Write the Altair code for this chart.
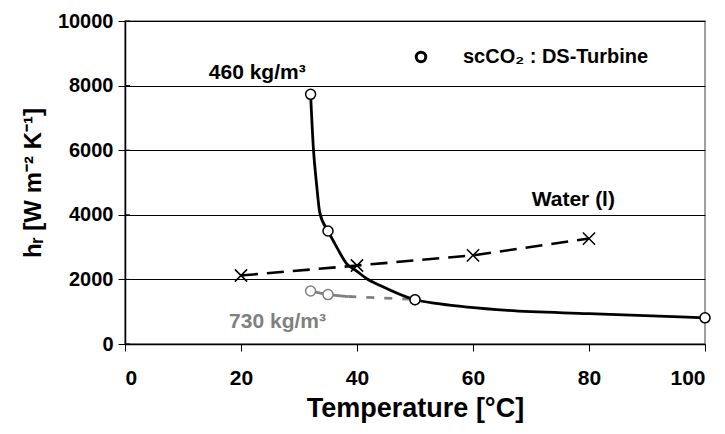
import altair as alt
import pandas as pd

# scCO2 460 kg/m3 curve (line trace) and its markers
t460_line = [32, 32.5, 33.0, 33.6, 35, 36.5, 38.2, 40, 41.7, 44, 50, 54, 66, 80, 100]
h460_line = [7730, 6000, 5000, 4050, 3500, 3000, 2490, 2250, 2020, 1810, 1370, 1250, 1040, 940, 810]
t460_pts = [32, 35, 50, 100]
h460_pts = [7730, 3500, 1370, 810]

# scCO2 730 kg/m3 curve
t730_solid = [32, 35, 38.5]
h730_solid = [1640, 1530, 1470]
t730_dash = [38.5, 50]
h730_dash = [1470, 1380]
t730_pts = [32, 35, 50]
h730_pts = [1640, 1530, 1370]

# Water (l)
t_water = [20, 40, 60, 80]
h_water = [2120, 2430, 2745, 3265]

# annotations
lab_text = ["460 kg/m³", "730 kg/m³", "Water (l)"]
lab_t = [22.8, 26.3, 77.3]
lab_h = [8390, 670, 4450]
lab_col = ["black", "#808080", "black"]

legend_label = ["scCO₂ : DS-Turbine"]

# y tick values
y_ticks = [0, 2000, 4000, 6000, 8000, 10000]

FONT = "Liberation Sans"

d460l = pd.DataFrame({"T": t460_line, "h": h460_line})
d460p = pd.DataFrame({"T": t460_pts, "h": h460_pts})
d730s = pd.DataFrame({"T": t730_solid, "h": h730_solid})
d730d = pd.DataFrame({"T": t730_dash, "h": h730_dash})
d730p = pd.DataFrame({"T": t730_pts, "h": h730_pts})
dw = pd.DataFrame({"T": t_water, "h": h_water})
dlab = pd.DataFrame({"T": lab_t, "h": lab_h, "txt": lab_text, "col": lab_col})
dleg = pd.DataFrame({"txt": legend_label})
dyt = pd.DataFrame({"h": y_ticks})

xs = alt.Scale(domain=[0, 100], nice=False, zero=False)
ys = alt.Scale(domain=[0, 10000], nice=False)

xax = alt.Axis(values=[0, 20, 40, 60, 80, 100], grid=False, tickSize=7,
               labelPadding=16, labelFontSize=21, title="Temperature [°C]",
               titlePadding=7, titleFontSize=27, format="d")
yax = alt.Axis(values=y_ticks, grid=True,
               gridColor="black", gridWidth=1, tickSize=7, labelPadding=5,
               labelFontSize=20, title="hᵣ [W m⁻² K⁻¹]", titlePadding=12,
               titleFontSize=24, format="d")

X = alt.X("T:Q", scale=xs, axis=xax)
Y = alt.Y("h:Q", scale=ys, axis=yax)
Xn = alt.X("T:Q", scale=xs)
Yn = alt.Y("h:Q", scale=ys)

base_grid = alt.Chart(d460l).mark_line(opacity=0).encode(x=X, y=Y)

# inward part of the y ticks (ticks cross the axis)
inner_ticks = alt.Chart(dyt).mark_rule(color="black", strokeWidth=1).encode(
    y=Yn, x=alt.value(0), x2=alt.value(5))

l730s = alt.Chart(d730s).mark_line(color="#808080", strokeWidth=2.8).encode(x=Xn, y=Yn)
l730d = alt.Chart(d730d).mark_line(color="#808080", strokeWidth=2.8,
                                   strokeDash=[8, 10]).encode(x=Xn, y=Yn)
l460 = alt.Chart(d460l).mark_line(color="black", strokeWidth=2.8,
                                  interpolate="monotone").encode(x=Xn, y=Yn)
lw = alt.Chart(dw).mark_line(color="black", strokeWidth=2.6,
                             strokeDash=[17, 9]).encode(x=Xn, y=Yn)

p730 = alt.Chart(d730p).mark_point(shape="circle", filled=True, fill="white",
                                   stroke="#808080", strokeWidth=1.5, size=100,
                                   opacity=1).encode(x=Xn, y=Yn)
p460 = alt.Chart(d460p).mark_point(shape="circle", filled=True, fill="white",
                                   stroke="black", strokeWidth=1.5, size=100,
                                   opacity=1).encode(x=Xn, y=Yn)
pw = alt.Chart(dw).mark_point(shape="M-1,-1L1,1M-1,1L1,-1", filled=False,
                              color="black", strokeWidth=1.5, size=150,
                              opacity=1).encode(x=Xn, y=Yn)

labels = alt.Chart(dlab).mark_text(font=FONT, fontSize=21, fontWeight="bold").encode(
    x=Xn, y=Yn, text="txt:N", color=alt.Color("col:N", scale=None))

# legend (sample symbol + label)
leg_sym = alt.Chart(dleg).mark_point(shape="circle", filled=True, fill="white",
                                     stroke="black", strokeWidth=3, size=90,
                                     opacity=1).encode(x=alt.value(296), y=alt.value(36))
leg_txt = alt.Chart(dleg).mark_text(font=FONT, fontSize=20, fontWeight="bold",
                                    align="left", baseline="middle",
                                    color="black").encode(
    x=alt.value(338), y=alt.value(36), text="txt:N")

chart = alt.layer(base_grid, inner_ticks, l730s, l730d, l460, lw, p730, p460, pw,
                  labels, leg_sym, leg_txt).properties(
    width=580, height=323,
    autosize=alt.AutoSizeParams(type="none"),
    padding={"left": 117, "top": 13, "right": 12, "bottom": 80},
    background="white",
).configure_view(stroke="#808080", strokeWidth=1.5).configure_axis(
    domainColor="black", tickColor="black", labelColor="black",
    labelFont=FONT, labelFontWeight="bold",
    titleFont=FONT, titleFontWeight="bold", titleColor="black",
    domainWidth=1.5,
)

chart.save("out.html", embed_options={"renderer": "svg", "actions": False})
